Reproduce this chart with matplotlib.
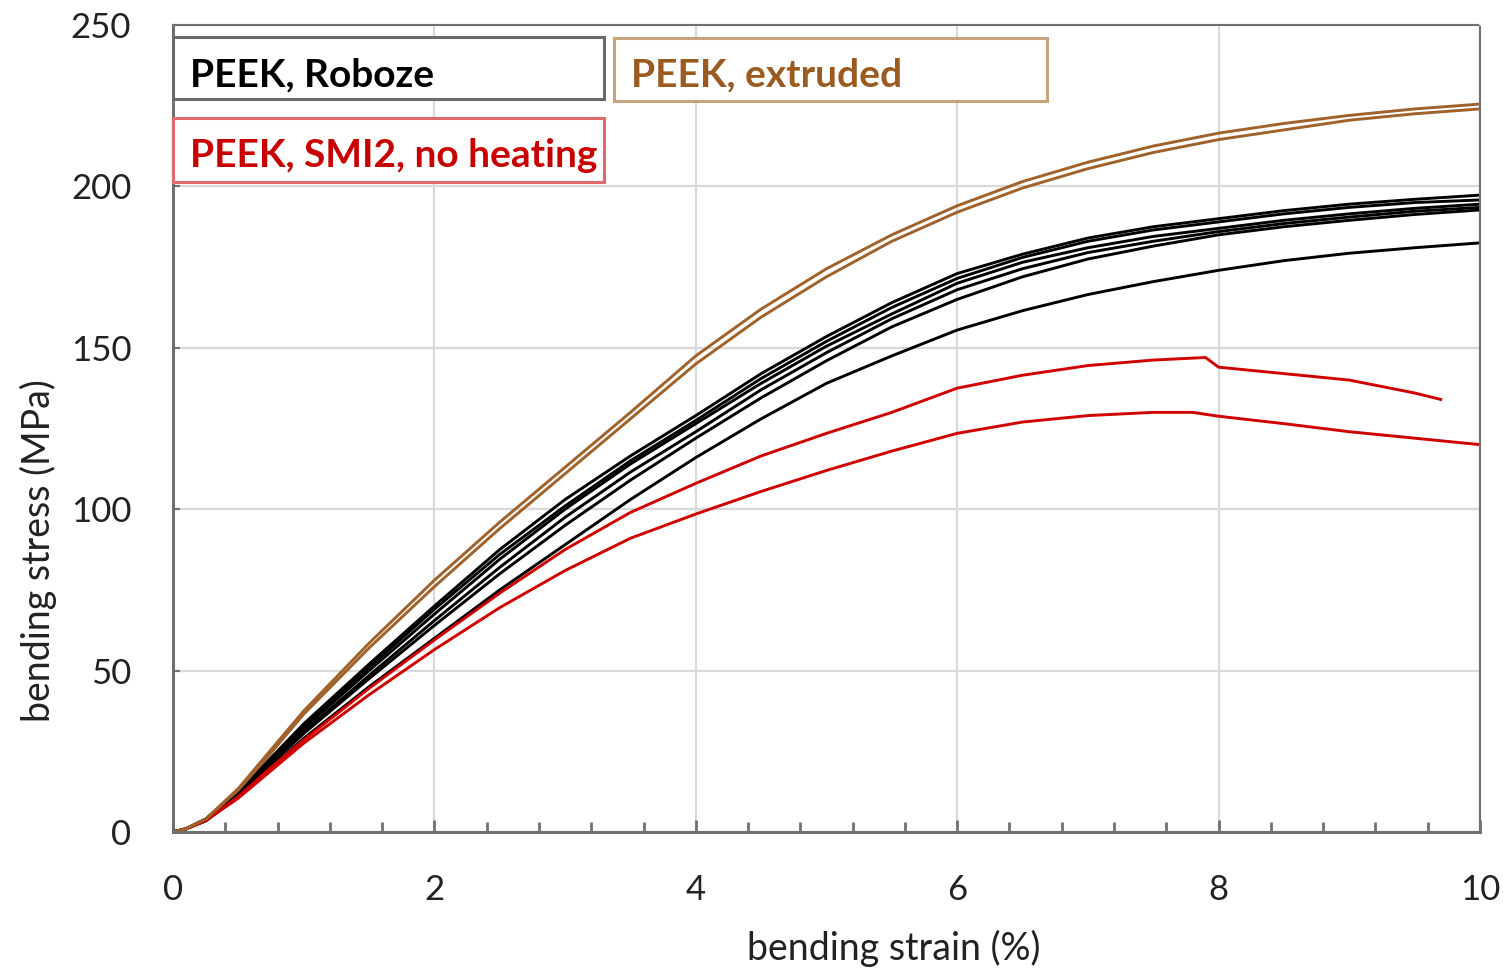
import matplotlib.pyplot as plt
from matplotlib.patches import Rectangle
from matplotlib.ticker import MultipleLocator

strain = [0, 0.1, 0.25, 0.5, 0.75, 1, 1.5, 2, 2.5, 3, 3.5, 4, 4.5, 5, 5.5, 6, 6.5, 7, 7.5, 8, 8.5, 9, 9.5, 10]

# PEEK, extruded (2 specimens)
extruded_1 = [0, 1, 4, 13.5, 25.5, 37.5, 58.5, 78, 96, 113, 130, 147.5, 162, 174.5, 185, 194, 201.5, 207.5, 212.5, 216.5, 219.5, 222, 224, 225.5]
extruded_2 = [0, 1, 4, 13, 24.5, 36.5, 57, 76, 94, 111, 128, 145, 159.5, 172, 183, 192, 199.5, 205.5, 210.5, 214.5, 217.5, 220.5, 222.5, 224]

# PEEK, Roboze (6 specimens)
roboze_1 = [0, 1, 4, 12.5, 23, 33.5, 52, 70, 87.5, 103, 116.5, 129, 142, 153.5, 164, 173, 179, 184, 187.5, 190, 192.5, 194.5, 196, 197.3]
roboze_2 = [0, 1, 4, 12.5, 22.5, 33, 51, 69, 86, 101, 115, 127.5, 140.5, 152, 162.5, 171.5, 178, 183, 186.5, 189, 191.5, 193.5, 195, 195.8]
roboze_3 = [0, 1, 4, 12, 22, 32, 50, 67.5, 84.5, 100, 114, 126.5, 139, 150.5, 160.5, 170, 176.5, 181, 184.5, 187, 189.5, 191.5, 193.2, 194.5]
roboze_4 = [0, 1, 3.5, 11.5, 21.5, 31, 48.5, 65.5, 82, 97.5, 111.5, 124, 137, 148.5, 159, 168, 174.5, 179.5, 183, 186, 188.5, 190.5, 192.3, 193.5]
roboze_5 = [0, 1, 3.5, 11.5, 21, 30.5, 47.5, 64, 80, 95, 109, 122, 134.5, 146, 156.5, 165, 172, 177.5, 181.5, 185, 187.5, 189.5, 191.3, 192.7]
roboze_6 = [0, 1, 3.5, 11, 20, 29, 45, 60, 75, 89, 103, 116, 128, 139, 147.5, 155.5, 161.5, 166.5, 170.5, 174, 177, 179.3, 181, 182.5]

# PEEK, SMI2, no heating (2 specimens, own strain points)
smi2_strain_1 = [0, 0.1, 0.25, 0.5, 0.75, 1, 1.5, 2, 2.5, 3, 3.5, 4, 4.5, 5, 5.5, 6, 6.5, 7, 7.5, 7.9, 8.0, 8.5, 9, 9.5, 9.7]
smi2_1 = [0, 1, 3.5, 11, 20, 28.5, 44.5, 59.5, 74, 87.5, 99, 108, 116.5, 123.5, 130, 137.5, 141.5, 144.5, 146.2, 147, 144, 142, 140, 136, 134]
smi2_strain_2 = [0, 0.1, 0.25, 0.5, 0.75, 1, 1.5, 2, 2.5, 3, 3.5, 4, 4.5, 5, 5.5, 6, 6.5, 7, 7.5, 7.8, 8, 8.5, 9, 9.5, 10]
smi2_2 = [0, 1, 3.5, 10.5, 19, 27.5, 42.5, 56.5, 69.5, 81, 91, 98.5, 105.5, 112, 118, 123.5, 127, 129, 130, 130, 128.8, 126.5, 124, 122, 120]

BROWN = '#a0622a'
RED = '#d00000'
FONT = 'Lato'


def plot_bending():
    fig = plt.figure(figsize=(15.03, 9.69), dpi=100)
    ax = fig.add_axes([173 / 1503, 1 - 832 / 969, 1307 / 1503, 807 / 969])

    for y in [roboze_1, roboze_2, roboze_3, roboze_4, roboze_5, roboze_6]:
        ax.plot(strain, y, color='black', linewidth=2.1)
    ax.plot(smi2_strain_1, smi2_1, color=RED, linewidth=2.1)
    ax.plot(smi2_strain_2, smi2_2, color=RED, linewidth=2.1)
    ax.plot(strain, extruded_1, color=BROWN, linewidth=2.1)
    ax.plot(strain, extruded_2, color=BROWN, linewidth=2.1)

    ax.set_xlim(0, 10)
    ax.set_ylim(0, 250)
    ax.xaxis.set_major_locator(MultipleLocator(2))
    ax.xaxis.set_minor_locator(MultipleLocator(0.4))
    ax.yaxis.set_major_locator(MultipleLocator(50))
    ax.grid(True, color='#d9d9d9', linewidth=1.6)
    ax.set_axisbelow(True)

    ax.tick_params(axis='x', which='major', direction='in', length=9, width=2,
                   color='#707070', pad=30, labelsize=25)
    ax.tick_params(axis='x', which='minor', direction='in', length=7, width=2, color='#707070')
    ax.tick_params(axis='y', which='major', direction='in', length=5, width=1.5,
                   color='#707070', pad=30, labelsize=25)
    for lab in ax.get_xticklabels() + ax.get_yticklabels():
        lab.set_family(FONT)
        lab.set_color('#222222')

    for s in ['left', 'bottom']:
        ax.spines[s].set_color('#707070')
        ax.spines[s].set_linewidth(2.2)
    for s in ['top', 'right']:
        ax.spines[s].set_color('#707070')
        ax.spines[s].set_linewidth(1.5)
        ax.spines[s].set_linestyle((0, (1.5, 1)))

    # legend boxes
    boxes = [
        (0.0, 0.9083, 0.3298, 0.0767, '#6a6a6a', 'PEEK, Roboze', 'black', 0.9232),
        (0.3374, 0.9058, 0.3313, 0.0781, '#c9a27e', 'PEEK, extruded', '#9a5a20', 0.9232),
        (0.0, 0.8055, 0.3298, 0.0793, '#e06a6a', 'PEEK, SMI2, no heating', '#c80000', 0.824),
    ]
    for x0, y0, w, h, ec, txt, tc, ty in boxes:
        ax.add_patch(Rectangle((x0, y0), w, h, transform=ax.transAxes, facecolor='white',
                               edgecolor=ec, linewidth=2.2, clip_on=False, zorder=5))
        ax.text(x0 + 0.013, ty, txt, transform=ax.transAxes, color=tc, fontsize=28,
                fontweight='bold', family=FONT, va='baseline', ha='left', zorder=6)

    fig.text(894 / 1503, 1 - 948 / 969, 'bending strain (%)', ha='center', va='center',
             fontsize=27, family=FONT, color='#222222')
    fig.text(38 / 1503, 1 - 551 / 969, 'bending stress (MPa)', ha='center', va='center',
             rotation=90, fontsize=27, family=FONT, color='#222222')

    fig.savefig('out.png', dpi=100)


if __name__ == "__main__":
    plot_bending()
